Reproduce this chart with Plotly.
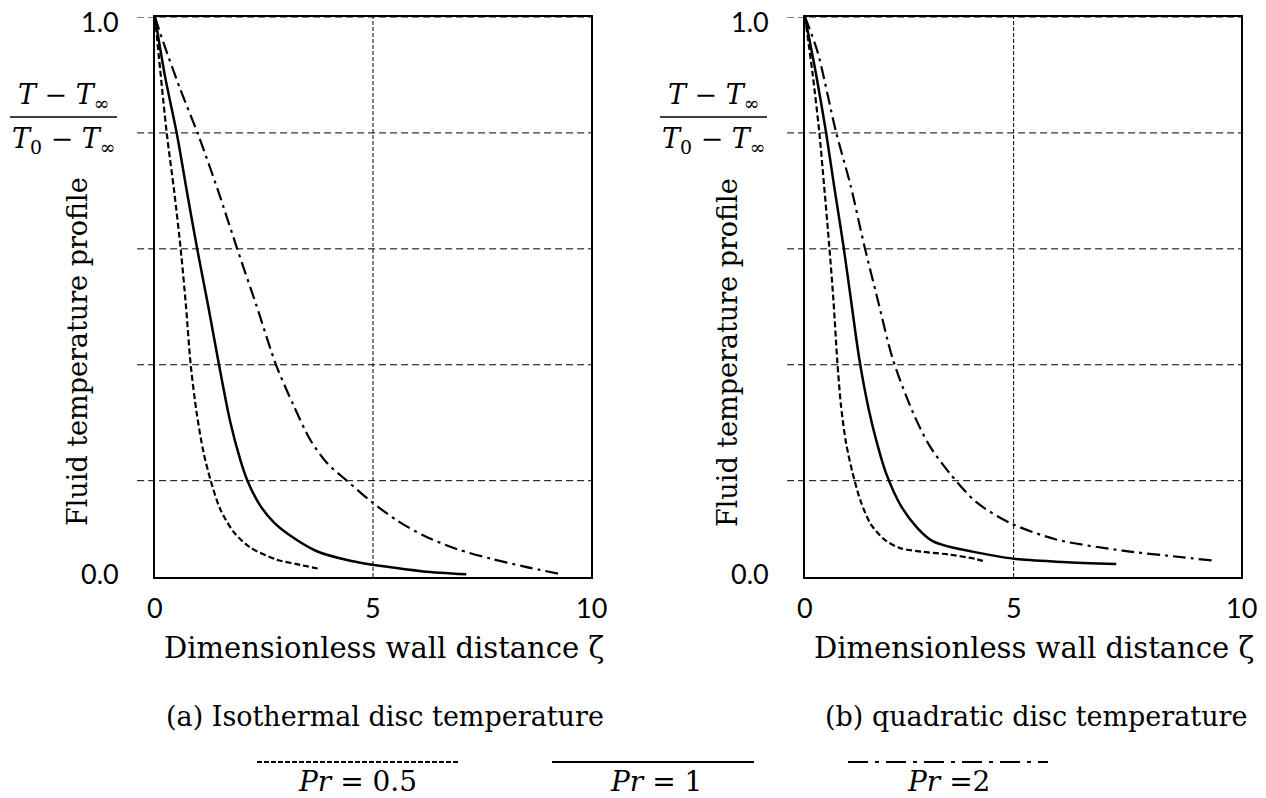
import plotly.graph_objects as go

# ---------------- data ----------------
# (a) Isothermal disc temperature
zeta_a_05 = [0, 0.27, 0.44, 0.59, 0.71, 0.82, 0.956, 1.109, 1.278, 1.492, 1.798, 2.18, 2.79, 3.25, 3.80]
theta_a_05 = [1.0, 0.792, 0.689, 0.585, 0.484, 0.378, 0.293, 0.224, 0.172, 0.122, 0.081, 0.053, 0.031, 0.023, 0.014]
zeta_a_1 = [0, 0.23, 0.50, 0.73, 0.97, 1.22, 1.47, 1.72, 1.95, 2.12, 2.41, 2.72, 3.10, 3.71, 4.48, 5.24, 6.16, 7.14]
theta_a_1 = [1.0, 0.894, 0.792, 0.689, 0.585, 0.484, 0.378, 0.279, 0.211, 0.172, 0.128, 0.098, 0.074, 0.046, 0.029, 0.019, 0.010, 0.005]
zeta_a_2 = [0, 0.19, 0.57, 1.00, 1.45, 1.89, 2.33, 2.78, 3.18, 3.56, 3.94, 4.40, 4.97, 5.55, 6.16, 6.92, 7.69, 8.45, 9.30]
theta_a_2 = [1.0, 0.955, 0.873, 0.788, 0.689, 0.585, 0.484, 0.378, 0.306, 0.245, 0.204, 0.172, 0.134, 0.101, 0.074, 0.050, 0.033, 0.019, 0.005]

# (b) quadratic disc temperature
zeta_b_05 = [0, 0.18, 0.34, 0.46, 0.58, 0.68, 0.77, 0.86, 0.98, 1.14, 1.34, 1.58, 1.90, 2.26, 2.82, 3.46, 4.10, 4.34]
theta_b_05 = [1.0, 0.90, 0.796, 0.697, 0.592, 0.496, 0.390, 0.308, 0.241, 0.186, 0.134, 0.094, 0.067, 0.052, 0.045, 0.040, 0.032, 0.027]
zeta_b_1 = [0, 0.26, 0.50, 0.70, 0.92, 1.10, 1.30, 1.54, 1.74, 1.94, 2.30, 2.70, 3.06, 3.46, 4.10, 5.06, 6.18, 7.46]
theta_b_1 = [1.0, 0.90, 0.796, 0.697, 0.592, 0.496, 0.390, 0.295, 0.235, 0.186, 0.127, 0.087, 0.064, 0.054, 0.044, 0.032, 0.027, 0.023]
zeta_b_2 = [0, 0.30, 0.74, 1.10, 1.42, 1.74, 2.10, 2.58, 2.98, 3.46, 4.10, 4.90, 6.02, 7.62, 8.82, 9.82]
theta_b_2 = [1.0, 0.938, 0.796, 0.697, 0.592, 0.496, 0.390, 0.295, 0.235, 0.186, 0.134, 0.097, 0.067, 0.047, 0.037, 0.029]

series_names = ["Pr = 0.5", "Pr = 1", "Pr =2"]
y_tick_vals = [0, 1]
y_tick_text = ["0.0", "1.0"]
x_tick_text = ["0", "5", "10"]
grid_y = [0.172, 0.379, 0.586, 0.793, 1.0]
grid_x = 5
x_max_a = 10.0
x_max_b = 10.45
subtitles = ["(a) Isothermal disc temperature", "(b) quadratic disc temperature"]
x_title = "Dimensionless wall distance ζ"
y_title = "Fluid temperature profile"

# ---------------- styling ----------------
W, H = 1266, 798
SERIF = "DejaVu Serif"
SANS = "Lato"
dash_styles = ["6px,3px", "solid", "13px,5px,3px,5px"]
widths = [2.2, 2.5, 2.2]
legend_dash = ["5px,2px", "solid", "20px,7px,4px,7px"]

def px_x(p):
    return p / W

def px_y(p):
    return 1 - p / H

dom_y = [px_y(577), px_y(17)]
dom_a = [px_x(155), px_x(591)]
dom_b = [px_x(805), px_x(1241)]

fig = go.Figure()

panels = [
    ("x", "y", [(zeta_a_05, theta_a_05), (zeta_a_1, theta_a_1), (zeta_a_2, theta_a_2)]),
    ("x2", "y2", [(zeta_b_05, theta_b_05), (zeta_b_1, theta_b_1), (zeta_b_2, theta_b_2)]),
]
for xa, ya, curves in panels:
    for i, (xs, ys) in enumerate(curves):
        fig.add_trace(go.Scatter(
            x=xs, y=ys, mode="lines", xaxis=xa, yaxis=ya,
            name=series_names[i], showlegend=False,
            line=dict(color="black", width=widths[i], dash=dash_styles[i],
                      shape="spline", smoothing=0.8),
            hoverinfo="skip",
        ))

axis_common = dict(showline=True, linecolor="black", linewidth=2, mirror=True,
                   showgrid=False, zeroline=False, automargin=False,
                   ticks="", showticklabels=False)

fig.update_layout(
    width=W, height=H, margin=dict(l=0, r=0, t=0, b=0, autoexpand=False),
    paper_bgcolor="white", plot_bgcolor="white",
    xaxis=dict(domain=dom_a, anchor="y", range=[0, x_max_a],
               tickvals=[0, 5, x_max_a], ticktext=x_tick_text, **axis_common),
    yaxis=dict(domain=dom_y, anchor="x", range=[0, 1],
               tickvals=y_tick_vals, ticktext=y_tick_text, **axis_common),
    xaxis2=dict(domain=dom_b, anchor="y2", range=[0, x_max_b],
                tickvals=[0, 5, x_max_b], ticktext=x_tick_text, **axis_common),
    yaxis2=dict(domain=dom_y, anchor="x2", range=[0, 1],
                tickvals=y_tick_vals, ticktext=y_tick_text, **axis_common),
)

shapes = []
annotations = []
tick_font = dict(family=SANS, size=27, color="black")
for xa, ya, xmax in [("x", "y", x_max_a), ("x2", "y2", x_max_b)]:
    for gy in grid_y:
        shapes.append(dict(type="line", xref=f"{xa} domain", yref=ya,
                           x0=-0.041, x1=1, y0=gy, y1=gy,
                           line=dict(color="black", width=1, dash="7px,4px"),
                           layer="below"))
    shapes.append(dict(type="line", xref=xa, yref=f"{ya} domain",
                       x0=grid_x, x1=grid_x, y0=0, y1=1,
                       line=dict(color="black", width=1, dash="4px,2px"),
                       layer="below"))
    # tick labels placed through the axes' own scales
    for v, t, ys in zip(y_tick_vals, y_tick_text, [4, -5]):
        annotations.append(dict(text=t, xref=f"{xa} domain", yref=ya, x=-0.078, y=v,
                                xanchor="right", yanchor="middle", showarrow=False,
                                yshift=ys, font=tick_font))
    for v, t in zip([0, 5, xmax], x_tick_text):
        annotations.append(dict(text=t, xref=xa, yref=f"{ya} domain", x=v, y=-0.055,
                                xanchor="center", yanchor="middle", showarrow=False,
                                font=tick_font))

# legend sample lines
legend_x = [(257, 458), (552, 754), (848, 1048)]
legend_line_y = 762
legend_label_y = 781
for i, (a, b) in enumerate(legend_x):
    shapes.append(dict(type="line", xref="paper", yref="paper",
                       x0=px_x(a), x1=px_x(b), y0=px_y(legend_line_y), y1=px_y(legend_line_y),
                       line=dict(color="black", width=2.2, dash=legend_dash[i])))

def ann(text, x, y, size, family=SERIF, angle=0, xanchor="center"):
    annotations.append(dict(text=text, x=px_x(x), y=px_y(y), xref="paper", yref="paper",
                            showarrow=False, xanchor=xanchor, yanchor="middle",
                            textangle=angle,
                            font=dict(family=family, size=size, color="black")))

for off in [0, 650]:
    # fraction label
    ann("<i>T</i> − <i>T</i><sub>∞</sub>", 64 + off, 97, 27)
    ann("<i>T</i><sub>0</sub> − <i>T</i><sub>∞</sub>", 64 + off, 141, 27)
    shapes.append(dict(type="line", xref="paper", yref="paper",
                       x0=px_x(10 + off), x1=px_x(117 + off), y0=px_y(117), y1=px_y(117),
                       line=dict(color="black", width=1.5)))
    ann(y_title, 77 + off, 352, 27, angle=-90)
    ann(x_title, 384 + off, 648, 29)

ann(subtitles[0], 385, 716, 27)
ann(subtitles[1], 1036, 716, 27)

legend_centers = [357, 656, 948]
for i, c in enumerate(legend_centers):
    lab = series_names[i].replace("Pr", "<i>Pr</i>")
    ann(lab, c, legend_label_y, 28)

fig.update_layout(annotations=annotations, shapes=shapes)
fig.write_html("out.html", config={"displayModeBar": False},
               post_script="document.body.style.margin='0';document.body.style.overflow='hidden';")
